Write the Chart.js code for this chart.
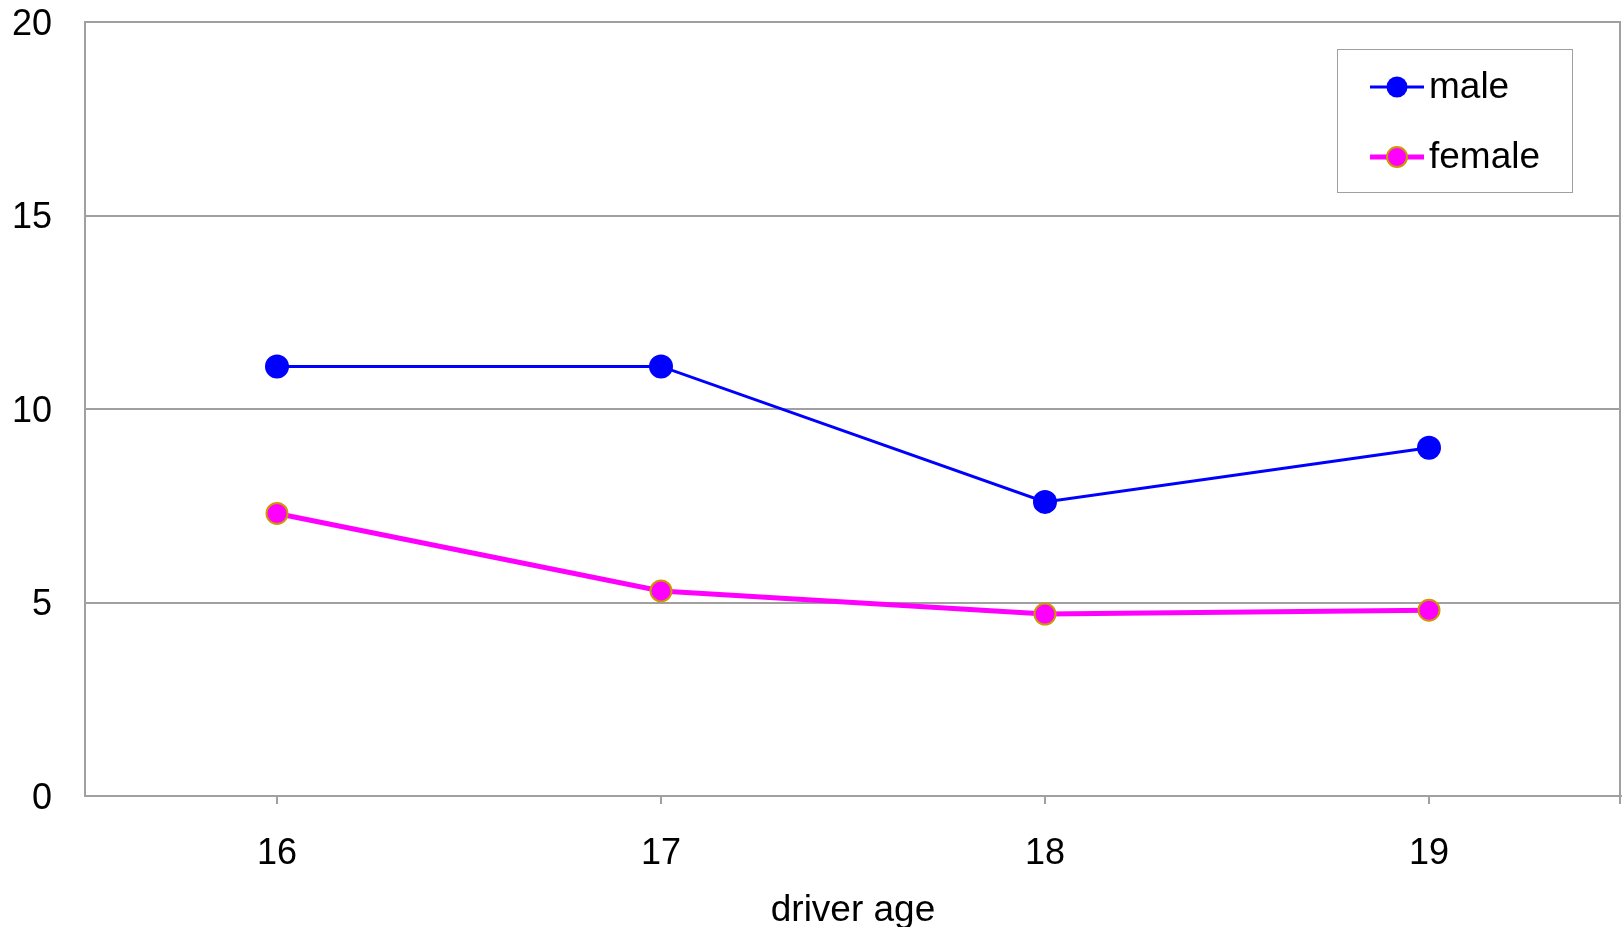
<!DOCTYPE html>
<html>
<head>
<meta charset="utf-8">
<title>Crash rate by driver age</title>
<script src="https://cdn.jsdelivr.net/npm/chart.js@4/dist/chart.umd.min.js"></script>
<style>
  html, body { margin: 0; padding: 0; background: #ffffff; }
  #wrap { width: 1623px; height: 927px; position: relative; }
</style>
</head>
<body>
<div id="wrap"><canvas id="chart"></canvas></div>
<script>
// Driver ages on the horizontal axis
const ages = ['16', '17', '18', '19'];
// Rates per age group
const maleValues = [11.1, 11.1, 7.6, 9.0];
const femaleValues = [7.3, 5.3, 4.7, 4.8];
// Value axis
const yMin = 0;
const yMax = 20;
const yStep = 5;
const xTitle = 'driver age';

const FONT = '"Liberation Sans", Arial, sans-serif';
const GRID = '#a0a0a0';

// Keep the plot area fixed: no automatic room for overhanging labels
function noAutoPadding(scale) {
  scale.paddingTop = 0;
  scale.paddingBottom = 0;
  scale.paddingLeft = 0;
  scale.paddingRight = 0;
}

// Gray right edge of the plot area, with a short mark under it
const framePlugin = {
  id: 'frame',
  beforeDatasetsDraw(chart) {
    const { ctx, chartArea: a } = chart;
    ctx.save();
    ctx.strokeStyle = GRID;
    ctx.lineWidth = 2;
    ctx.beginPath();
    ctx.moveTo(a.right - 1, a.top);
    ctx.lineTo(a.right - 1, a.bottom + 8);
    ctx.stroke();
    ctx.restore();
  }
};

// Boxed legend inside the plot, upper right
const boxLegend = {
  id: 'boxLegend',
  afterDraw(chart) {
    const { ctx } = chart;
    const box = { x: 1337.5, y: 49.5, w: 235, h: 143 };
    ctx.save();
    ctx.fillStyle = '#ffffff';
    ctx.fillRect(box.x, box.y, box.w, box.h);
    ctx.strokeStyle = GRID;
    ctx.lineWidth = 1;
    ctx.strokeRect(box.x, box.y, box.w, box.h);
    const rows = [87, 157];
    chart.data.datasets.forEach((ds, i) => {
      const y = rows[i];
      ctx.strokeStyle = ds.borderColor;
      ctx.lineWidth = ds.borderWidth;
      ctx.beginPath();
      ctx.moveTo(1370, y);
      ctx.lineTo(1424, y);
      ctx.stroke();
      ctx.beginPath();
      ctx.arc(1397, y, i === 0 ? 10.5 : 10, 0, Math.PI * 2);
      ctx.fillStyle = ds.pointBackgroundColor;
      ctx.fill();
      if (ds.pointBorderWidth) {
        ctx.strokeStyle = ds.pointBorderColor;
        ctx.lineWidth = ds.pointBorderWidth;
        ctx.stroke();
      }
      ctx.fillStyle = '#000000';
      ctx.font = '37px ' + FONT;
      ctx.textAlign = 'left';
      ctx.textBaseline = 'middle';
      ctx.fillText(ds.label, 1429, y + 1);
    });
    ctx.restore();
  }
};

new Chart(document.getElementById('chart'), {
  type: 'line',
  data: {
    labels: ages,
    datasets: [
      {
        label: 'male',
        data: maleValues,
        borderColor: '#0000ff',
        borderWidth: 3,
        pointBackgroundColor: '#0000ff',
        pointBorderColor: '#0000ff',
        pointBorderWidth: 0,
        pointRadius: 12,
        pointHoverRadius: 12,
        tension: 0
      },
      {
        label: 'female',
        data: femaleValues,
        borderColor: '#ff00ff',
        borderWidth: 5,
        pointBackgroundColor: '#ff00ff',
        pointBorderColor: '#cc9900',
        pointBorderWidth: 2,
        pointRadius: 10.5,
        pointHoverRadius: 10.5,
        tension: 0
      }
    ]
  },
  options: {
    responsive: true,
    maintainAspectRatio: false,
    animation: false,
    layout: { autoPadding: false, padding: { top: 22, right: 2, left: 0, bottom: 0 } },
    plugins: {
      legend: { display: false },
      tooltip: { enabled: false }
    },
    scales: {
      x: {
        type: 'category',
        offset: true,
        afterFit(scale) { scale.height = 131; noAutoPadding(scale); },
        grid: {
          offset: false,
          drawOnChartArea: false,
          drawTicks: true,
          tickLength: 8,
          color: GRID,
          lineWidth: 2
        },
        border: { display: true, color: GRID, width: 2 },
        ticks: {
          color: '#000000',
          font: { family: FONT, size: 36 },
          padding: 28,
          maxRotation: 0
        },
        title: {
          display: true,
          text: xTitle,
          color: '#000000',
          font: { family: FONT, size: 37 },
          padding: { top: 0, bottom: -6 }
        }
      },
      y: {
        min: yMin,
        max: yMax,
        afterFit(scale) { scale.width = 85; noAutoPadding(scale); },
        grid: {
          color: GRID,
          lineWidth: 2,
          drawTicks: false
        },
        border: { display: true, color: GRID, width: 2 },
        ticks: {
          stepSize: yStep,
          color: '#000000',
          font: { family: FONT, size: 36 },
          padding: 33,
          labelOffset: 3
        }
      }
    }
  },
  plugins: [framePlugin, boxLegend]
});
</script>
</body>
</html>
